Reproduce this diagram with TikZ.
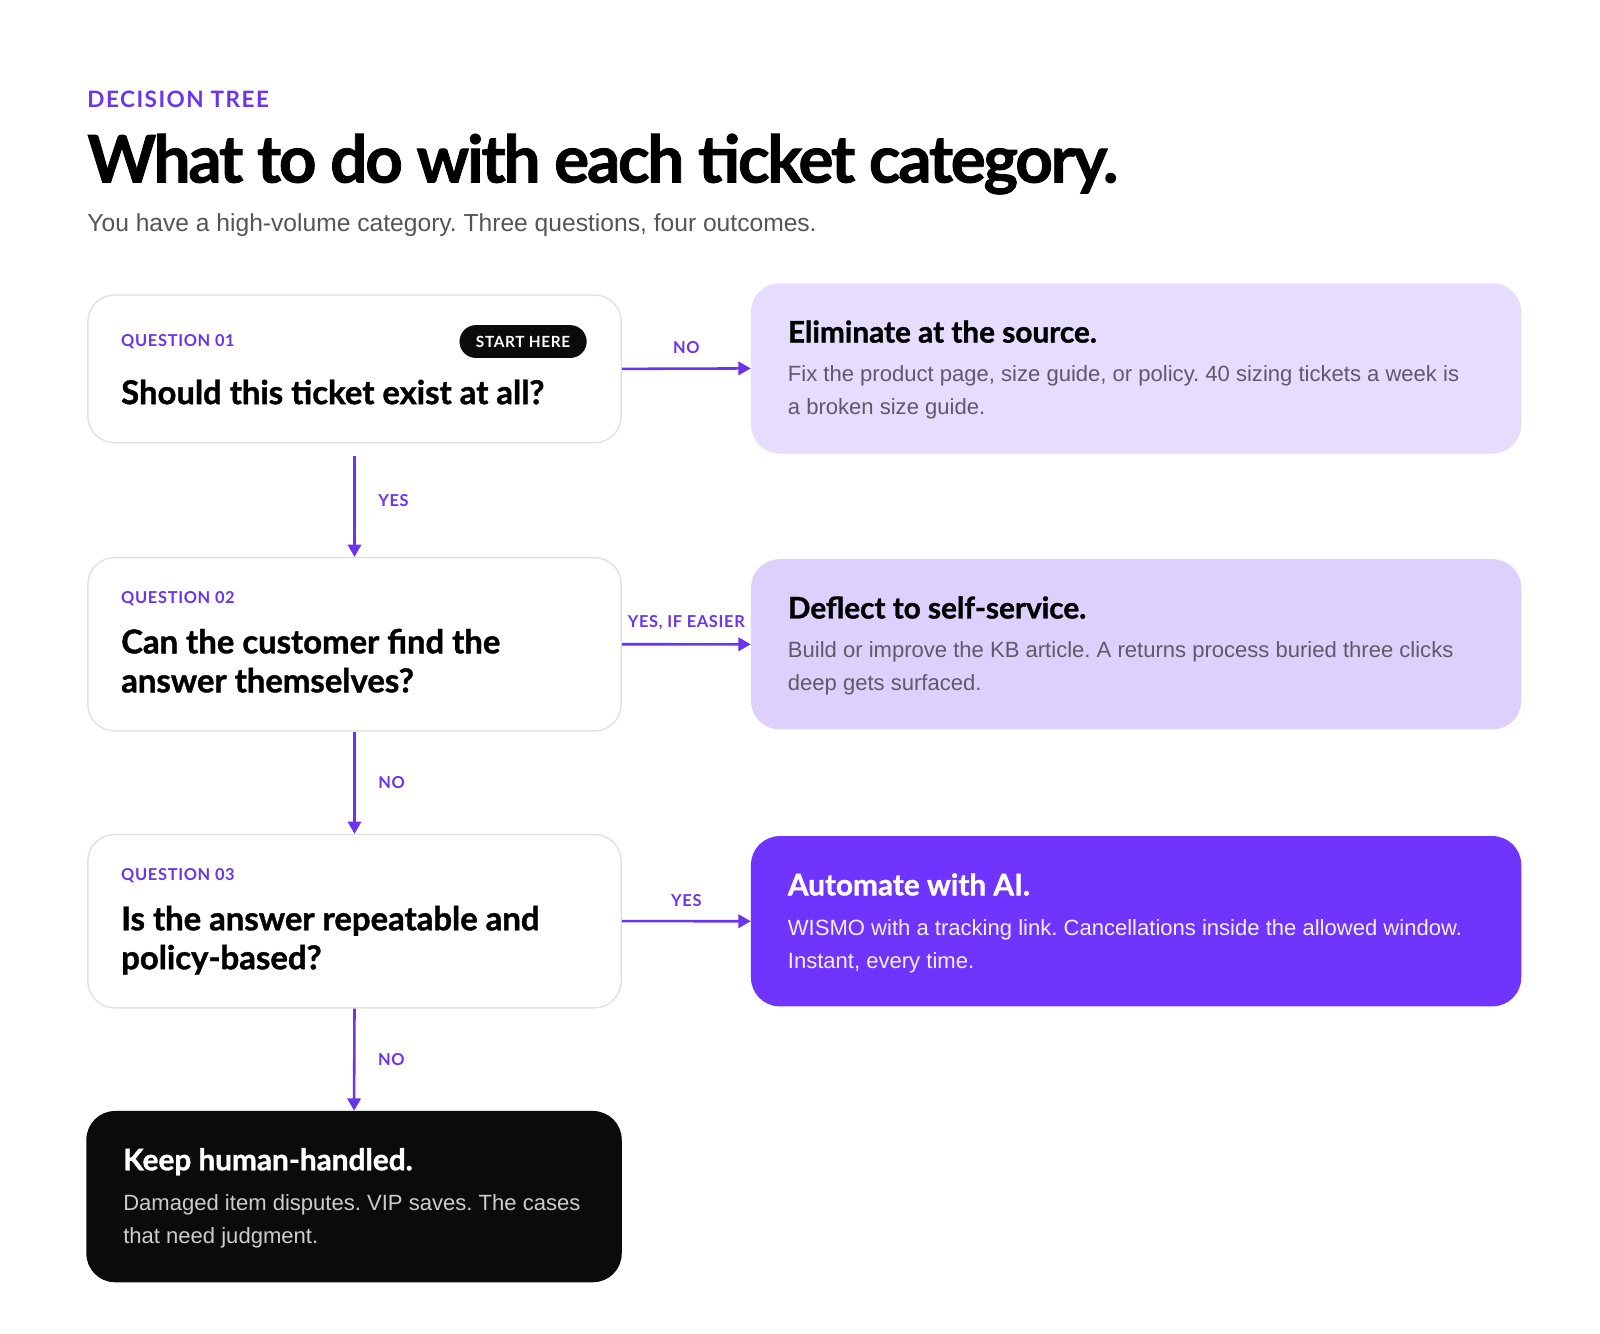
\documentclass[tikz,border=0pt]{standalone}
\usepackage{fontspec}
\setmainfont{Liberation Sans}
\newfontfamily\headfont{Lato}[BoldFeatures={FakeBold=1.2}]
\newfontfamily\tagfont{Lato}
\usetikzlibrary{arrows.meta,positioning,calc}
\definecolor{treepurple}{HTML}{6A35EC}
\definecolor{lilac}{HTML}{E6DCFD}
\definecolor{lilacdeep}{HTML}{DDD0FC}
\definecolor{aipurple}{HTML}{7034FF}
\definecolor{inkblack}{HTML}{0B0B0B}
\definecolor{boxline}{HTML}{E0E0E0}
\definecolor{bodygray}{HTML}{5E5A68}
\definecolor{subgray}{HTML}{555555}
\frenchspacing

\begin{document}
\begin{tikzpicture}[x=1pt,y=-1pt,
    qbox/.style={draw=boxline, line width=1.3pt, fill=white, rounded corners=26pt,
        minimum width=520pt, anchor=north west, inner sep=0pt},
    outbox/.style={rounded corners=28pt, minimum width=751pt, minimum height=166pt,
        anchor=north west, inner sep=0pt},
    link/.style={draw=treepurple, line width=2.5pt, -{Triangle[length=12pt,width=13pt]}},
    tag/.style={font=\tagfont\bfseries\fontsize{16}{18}\selectfont\addfontfeatures{LetterSpace=4},
        text=treepurple, inner sep=0pt},
    qtext/.style={font=\headfont\bfseries\fontsize{32}{38}\selectfont, align=left,
        anchor=base west, inner sep=0pt},
    otitle/.style={font=\headfont\bfseries\fontsize{29}{32}\selectfont, anchor=base west, inner sep=0pt},
    obody/.style={font=\fontsize{21.5}{32}\selectfont, align=left, anchor=base west, inner sep=0pt}]
    \useasboundingbox[fill=white] (0,0) rectangle (1560,1300);

    % Header
    \node[anchor=base west, inner sep=0pt, text=treepurple,
        font=\tagfont\bfseries\fontsize{22}{24}\selectfont\addfontfeatures{LetterSpace=6.5}] (kicker) at (85,105) {DECISION TREE};
    \node[anchor=base west, inner sep=0pt,
        font=\headfont\bfseries\fontsize{64}{70}\selectfont\addfontfeatures{LetterSpace=-3.5}] (title) at (85,178) {What to do with each ticket category.};
    \node[anchor=base west, inner sep=0pt, text=subgray, font=\fontsize{24}{26}\selectfont] (subtitle) at (85,226)
        {You have a high-volume category. Three questions, four outcomes.};

    % Question boxes
    \node[qbox, minimum height=144pt] (q1) at (85,287) {};
    \node[qbox, minimum height=169pt] (q2) at (85,543) {};
    \node[qbox, minimum height=169pt] (q3) at (85,813) {};

    % Outcome boxes
    \node[outbox, fill=lilac] (elim) at (732,276) {};
    \node[outbox, fill=lilacdeep] (deflect) at (732,545) {};
    \node[outbox, fill=aipurple] (auto) at (732,815) {};
    \node[outbox, fill=inkblack, minimum width=522pt, minimum height=167pt] (keep) at (84,1083) {};

    % Question texts (multi-line nodes sit on their last baseline)
    \node[tag, anchor=base west] (q1tag) at (118,338) {QUESTION 01};
    \node[fill=inkblack, rounded corners=16pt, minimum width=124pt, minimum height=32pt, inner sep=0pt,
        text=white, font=\tagfont\bfseries\fontsize{15}{17}\selectfont\addfontfeatures{LetterSpace=4}] (start) at (510,333) {START HERE};
    \node[qtext] (q1text) at (118,394) {Should this ticket exist at all?};
    \node[tag, anchor=base west] (q2tag) at (118,588) {QUESTION 02};
    \node[qtext] (q2text) at (118,675) {Can the customer find the\\answer themselves?};
    \node[tag, anchor=base west] (q3tag) at (118,858) {QUESTION 03};
    \node[qtext] (q3text) at (118,945) {Is the answer repeatable and\\policy-based?};

    % Outcome texts
    \node[otitle] (elimtitle) at (768,334) {Eliminate at the source.};
    \node[obody, text=bodygray] (elimbody) at (768,404)
        {Fix the product page, size guide, or policy. 40 sizing tickets a week is\\a broken size guide.};
    \node[otitle] (deflecttitle) at (768,603) {Deflect to self-service.};
    \node[obody, text=bodygray] (deflectbody) at (768,673)
        {Build or improve the KB article. A returns process buried three clicks\\deep gets surfaced.};
    \node[otitle, text=white] (autotitle) at (768,873) {Automate with AI.};
    \node[obody, text=white!92!aipurple] (autobody) at (768,944)
        {WISMO with a tracking link. Cancellations inside the allowed window.\\Instant, every time.};
    \node[otitle, text=white] (keeptitle) at (120,1141) {Keep human-handled.};
    \node[obody, text=white!80!black] (keepbody) at (120,1212)
        {Damaged item disputes. VIP saves. The cases\\that need judgment.};

    % Connectors
    \draw[link] (q1.east) -- node[tag, above=13pt] {NO} (elim.west);
    \draw[link] (q2.east) -- node[tag, above=13pt] {YES, IF EASIER} (deflect.west);
    \draw[link] (q3.east) -- node[tag, above=13pt] {YES} (auto.west);
    \draw[link, shorten <=12pt] (q1.south) -- node[tag, right=22pt] {YES} (q2.north);
    \draw[link] (q2.south) -- node[tag, right=22pt] {NO} (q3.north);
    \draw[link] (q3.south) -- node[tag, right=22pt] {NO} (keep.north);
\end{tikzpicture}
\end{document}
